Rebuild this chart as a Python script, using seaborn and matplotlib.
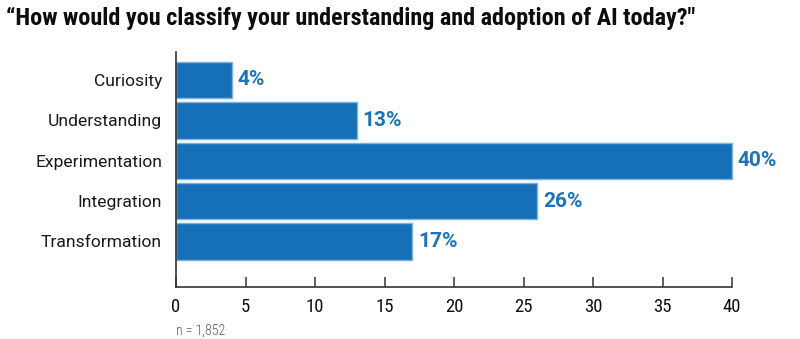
import matplotlib
matplotlib.use("Agg")
import matplotlib.pyplot as plt
import seaborn as sns
import pandas as pd

# Survey responses: stage of AI understanding/adoption (% of respondents)
stages = ["Curiosity", "Understanding", "Experimentation", "Integration", "Transformation"]
shares = [4, 13, 40, 26, 17]
x_ticks = [0, 5, 10, 15, 20, 25, 30, 35, 40]
title = "\u201cHow would you classify your understanding and adoption of AI today?\""
sample_note = "n = 1,852"

BAR_BLUE = "#1570b8"
EDGE_BLUE = "#7fb2de"
LABEL_BLUE = "#1d72b8"
COND = ["Roboto Condensed", "DejaVu Sans"]

sns.set_theme(style="white")
plt.rcParams["font.family"] = ["Roboto", "DejaVu Sans"]

df = pd.DataFrame({"stage": stages, "share": shares})

fig = plt.figure(figsize=(8.0, 3.39), dpi=100)
ax = fig.add_axes([0.22, 0.1543, 0.695, 0.6932])

sns.barplot(data=df, x="share", y="stage", orient="h", color=BAR_BLUE,
            saturation=1, width=0.9, edgecolor=EDGE_BLUE, linewidth=1.0, ax=ax)

for patch in ax.patches:
    patch.set_clip_on(False)

for i, v in enumerate(shares):
    ax.annotate(f"{v}%", xy=(v, i), xytext=(4, 0), textcoords="offset points",
                ha="left", va="center", fontsize=15, fontweight="bold",
                color=LABEL_BLUE, annotation_clip=False)

ax.set_xlim(0, 40)
ax.set_ylim(5.12, -0.70)
ax.set_xticks(x_ticks)
ax.set_xticklabels([str(t) for t in x_ticks], fontfamily=COND, fontsize=13.5)
ax.set_xlabel("")
ax.set_ylabel("")
ax.tick_params(axis="x", direction="in", length=7, width=1.2, color="#444444",
               pad=8, labelcolor="#111111", bottom=True)
ax.tick_params(axis="y", length=0, pad=10, labelsize=12.6, labelcolor="#1a1a1a")

for side in ("top", "right"):
    ax.spines[side].set_visible(False)
for side in ("left", "bottom"):
    ax.spines[side].set_color("#333333")
    ax.spines[side].set_linewidth(1.2)

fig.text(0.008, 1 - 25 / 339, title, ha="left", va="baseline",
         fontsize=17.4, fontweight="bold", color="#0d0d0d", fontfamily=COND)
fig.text(0.22, 1 - 331 / 339, sample_note, ha="left", va="center",
         fontsize=10, color="#5a5a5a", fontfamily=COND, fontweight=300)

fig.savefig("out.png", dpi=100, facecolor="white")
